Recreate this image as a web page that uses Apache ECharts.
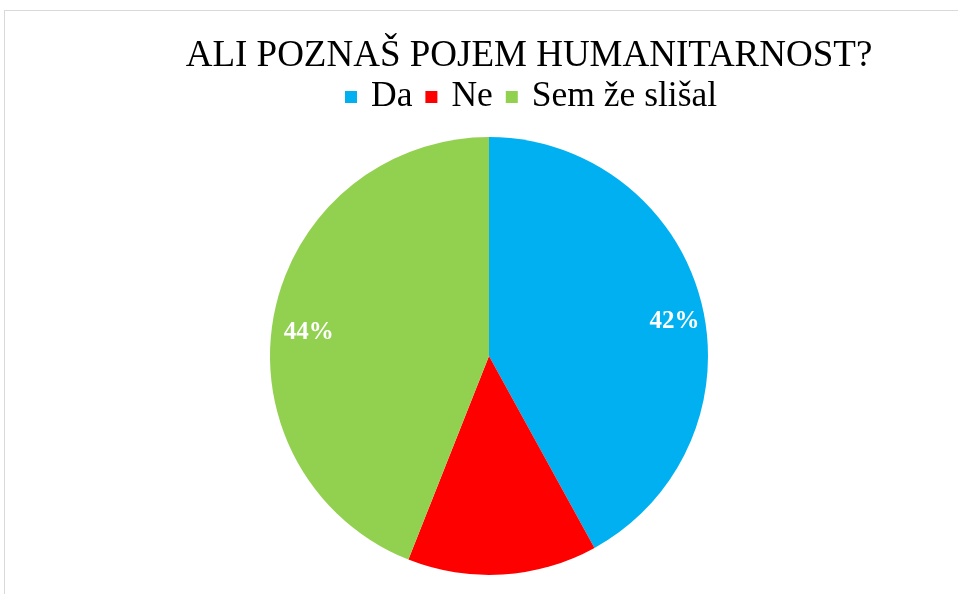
<!DOCTYPE html>
<html>
<head>
<meta charset="utf-8">
<script src="https://cdn.jsdelivr.net/npm/echarts@6/dist/echarts.min.js"></script>
<style>
    html, body { margin: 0; padding: 0; background: #fff; }
    #frame { position: absolute; left: 4px; top: 10px; width: 960px; height: 600px;
             border-left: 1px solid #d9d9d9; border-top: 1px solid #d9d9d9; }
    #chart { position: absolute; left: 0; top: 0; width: 958px; height: 594px; }
</style>
</head>
<body>
<div id="frame"></div>
<div id="chart"></div>
<script>
// podatki
var categories = ['Da', 'Ne', 'Sem že slišal'];
var values = [42, 14, 44];
var showLabel = [true, false, true];
var colors = ['#00B0F0', '#FF0000', '#92D050'];

var serif = '"Liberation Serif", "DejaVu Serif", serif';

var pieData = categories.map(function (name, i) {
    return { name: name, value: values[i] };
});
// nevidna plast samo za oznake (bliže robu, kot v Excelu)
var labelData = categories.map(function (name, i) {
    return { name: name, value: values[i], label: { show: showLabel[i] } };
});

var chart = echarts.init(document.getElementById('chart'));
chart.setOption({
    color: colors,
    animation: false,
    title: {
        text: 'ALI POZNAŠ POJEM HUMANITARNOST?',
        left: 524,
        textAlign: 'center',
        top: 33,
        textStyle: { fontFamily: serif, fontSize: 37, fontWeight: 'normal', color: '#000' }
    },
    legend: {
        data: categories,
        left: 340,
        top: 74,
        icon: 'rect',
        itemWidth: 12,
        itemHeight: 12,
        itemGap: 13,
        textStyle: { fontFamily: serif, fontSize: 35.5, color: '#000', padding: [0, 0, 0, 9] }
    },
    series: [
        {
            type: 'pie',
            center: [489, 356],
            radius: [0, 219],
            startAngle: 90,
            clockwise: true,
            label: { show: false },
            labelLine: { show: false },
            itemStyle: { borderWidth: 0 },
            data: pieData
        },
        {
            type: 'pie',
            center: [489, 356],
            radius: [150, 219],
            startAngle: 90,
            clockwise: true,
            silent: true,
            itemStyle: { color: 'rgba(0,0,0,0)' },
            label: {
                position: 'inside',
                formatter: '{d}%',
                color: '#fff',
                fontFamily: serif,
                fontWeight: 'bold',
                fontSize: 25,
                offset: [4, 12]
            },
            labelLine: { show: false },
            data: labelData
        }
    ]
});
</script>
</body>
</html>
